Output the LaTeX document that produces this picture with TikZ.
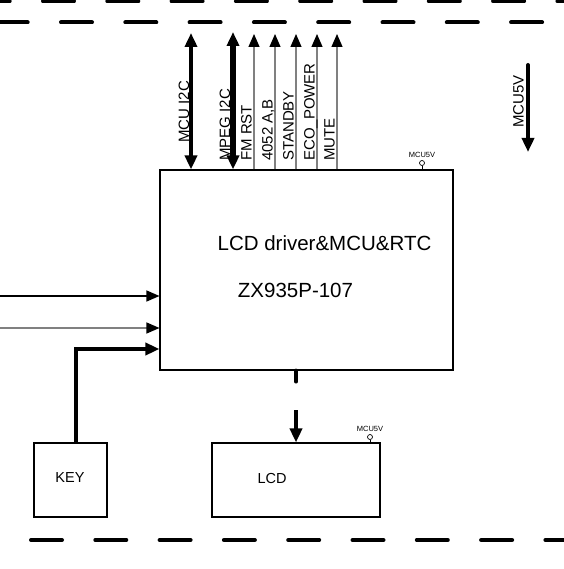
\documentclass[tikz,border=0pt]{standalone}
\usepackage{fontspec}
\setmainfont{Liberation Sans}
\usetikzlibrary{arrows.meta}
\begin{document}
\begin{tikzpicture}[x=1pt,y=-1pt,
  dashrow/.style={line width=4pt,line cap=round,dash pattern=on 31pt off 33.3pt},
  box/.style={draw,line width=1.1pt,inner sep=0pt},
  vlabel/.style={font=\fontsize{15}{15}\selectfont,rotate=90,anchor=base west,inner sep=0pt},
  boxtext/.style={font=\fontsize{20.5}{20.5}\selectfont,anchor=base,inner sep=0pt},
  smalltext/.style={font=\fontsize{14.5}{14.5}\selectfont,anchor=base,inner sep=0pt},
  tinytext/.style={font=\fontsize{7.5}{7.5}\selectfont,anchor=base,inner sep=0pt},
  pincirc/.style={draw,circle,line width=0.7pt,minimum size=5pt,inner sep=0pt},
  bigtip/.tip={Triangle[length=14pt,width=12pt]},
  smalltip/.tip={Triangle[length=13pt,width=11pt]},
  busA/.style={line width=4pt,bigtip-bigtip},
  busB/.style={line width=6pt,bigtip-bigtip},
  thinarr/.style={line width=1.2pt,black!50,-{smalltip[black]}},
  thinblk/.style={line width=1.3pt,black,-smalltip},
  thickarr/.style={line width=4pt,-bigtip},
  stub/.style={line width=4pt,line cap=round}]
\useasboundingbox (0,0) rectangle (563,569);
% dashed borders
\draw[dashrow] (-21.3,1.5) -- (620,1.5);
\draw[dashrow] (-3.3,22.5) -- (620,22.5);
\draw[dashrow] (-33.3,540) -- (620,540);
% boxes
\node[box,minimum width=293pt,minimum height=200pt] (main) at (306.5,270) {};
\node[box,minimum width=73pt,minimum height=74pt] (key) at (70.5,480) {};
\node[box,minimum width=168pt,minimum height=74pt] (lcd) at (296,480) {};
\node[boxtext] (t1) at (324.5,250.5) {LCD driver\&MCU\&RTC};
\node[boxtext] (t2) at (295.5,297) {ZX935P-107};
\node[smalltext] (t3) at (70,482) {KEY};
\node[smalltext] (t4) at (272,483.5) {LCD};
% top buses
\coordinate (a1) at (191,33);
\coordinate (a2) at (233,32);
\coordinate (a3) at (254,34);
\coordinate (a4) at (275,34);
\coordinate (a5) at (296,34);
\coordinate (a6) at (317,34);
\coordinate (a7) at (337,34);
\draw[busA] (a1) -- (a1 |- main.north);
\draw[busB] (a2) -- (a2 |- main.north);
\draw[thinarr] (a3 |- main.north) -- (a3);
\draw[thinarr] (a4 |- main.north) -- (a4);
\draw[thinarr] (a5 |- main.north) -- (a5);
\draw[thinarr] (a6 |- main.north) -- (a6);
\draw[thinarr] (a7 |- main.north) -- (a7);
\node[vlabel] (l1) at (189,143) {MCU I2C};
\node[vlabel] (l2) at (230,161) {MPEG I2C};
\node[vlabel] (l3) at (251.5,161) {FM RST};
\node[vlabel] (l4) at (272.5,161) {4052 A,B};
\node[vlabel] (l5) at (293.5,161) {STANDBY};
\node[vlabel] (l6) at (314.5,161) {ECO\_POWER};
\node[vlabel] (l7) at (334.5,161) {MUTE};
% right MCU5V arrow
\coordinate (p1) at (528,65);
\coordinate (p2) at (528,152);
\draw[thickarr,line cap=round] (p1) -- (p2);
\node[vlabel] (l8) at (523.5,128) {MCU5V};
% pins
\node[pincirc] (pc1) at (422,163) {};
\draw[line width=0.7pt] (pc1.south) -- (pc1 |- main.north);
\node[tinytext] (pt1) at (422,158) {MCU5V};
\node[pincirc] (pc2) at (370,437) {};
\draw[line width=0.7pt] (pc2.south) -- (pc2 |- lcd.north);
\node[tinytext] (pt2) at (370,431) {MCU5V};
% left inputs
\coordinate (i1) at (0,296);
\coordinate (i2) at (0,328);
\coordinate (i3) at (0,349);
\draw[thinblk] (i1) -- (i1 -| main.west);
\draw[thinarr] (i2) -- (i2 -| main.west);
\draw[thickarr] ([xshift=5.5pt]key.north) |- (i3 -| main.west);
% to LCD
\coordinate (s1) at (296,370);
\coordinate (s2) at (296,410);
\draw[stub] (s1 |- main.south) -- ++(0,11);
\draw[thickarr] (s2) -- (s2 |- lcd.north);
\end{tikzpicture}
\end{document}
